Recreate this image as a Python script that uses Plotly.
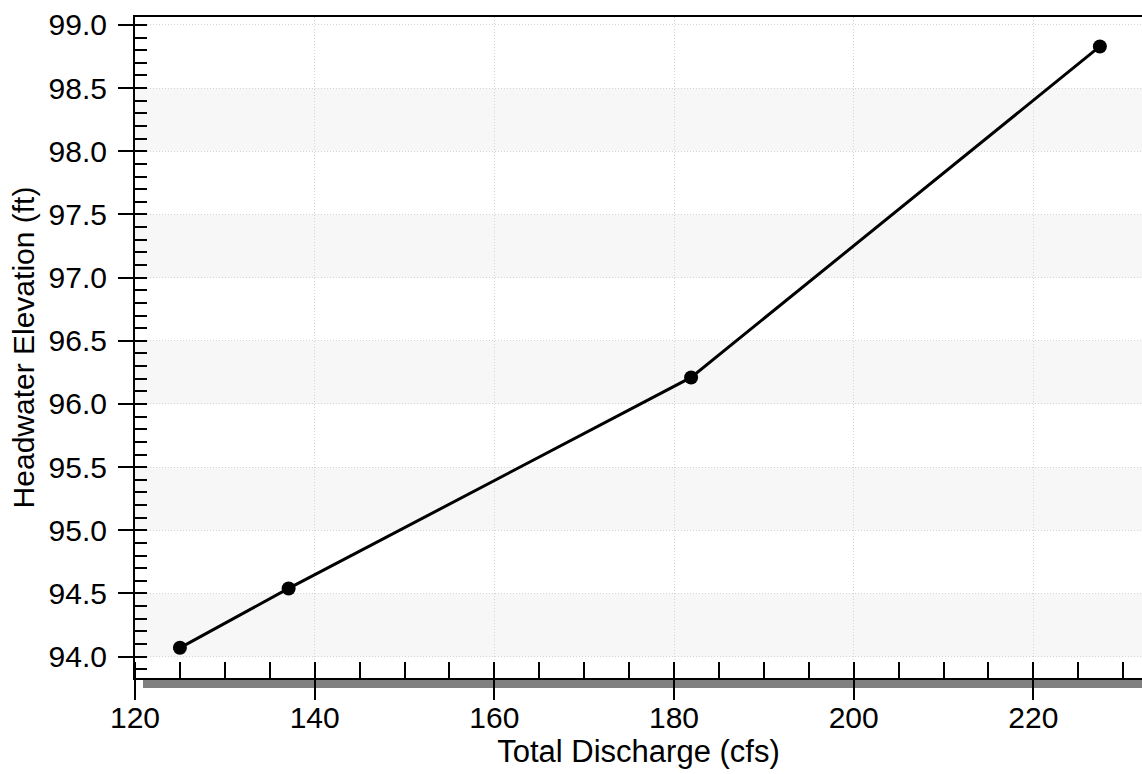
import plotly.graph_objects as go

# Data
discharge_cfs = [125.0, 137.1, 181.9, 227.4]
headwater_ft = [94.07, 94.54, 96.21, 98.83]

x_range = [120.0, 232.09]
y_range = [93.831, 99.063]
y_band_starts = [94.0, 95.0, 96.0, 97.0, 98.0]
y_band_height = 0.5

FONT = "Liberation Sans, Arial, sans-serif"

W, H = 1142, 774
L, R, T, B = 135, 0, 17, 96
plot_w = W - L - R
plot_h = H - T - B

fig = go.Figure()
fig.add_trace(go.Scatter(
    x=discharge_cfs, y=headwater_ft, mode="lines+markers",
    line=dict(color="black", width=3),
    marker=dict(color="black", size=14, symbol="circle"),
    cliponaxis=False, showlegend=False,
))

shapes = []
for b in y_band_starts:
    shapes.append(dict(type="rect", xref="paper", yref="y", x0=0, x1=1,
                       y0=b, y1=b + y_band_height, fillcolor="#f7f7f7",
                       line=dict(width=0), layer="below"))
# drop shadow under the bottom axis
shapes.append(dict(type="rect", xref="paper", yref="paper",
                   x0=8 / plot_w, x1=1, y0=-10 / plot_h, y1=-1 / plot_h,
                   fillcolor="#808080", line=dict(width=0), layer="below"))

fig.update_layout(
    width=W, height=H,
    margin=dict(l=L, r=R, t=T, b=B, pad=0),
    paper_bgcolor="white", plot_bgcolor="white",
    font=dict(family=FONT, size=30, color="black"),
    shapes=shapes,
    xaxis=dict(
        range=x_range, tick0=120, dtick=20,
        showline=True, linecolor="black", linewidth=2, mirror=True,
        ticks="outside", ticklen=20, tickwidth=2, tickcolor="black",
        showgrid=True, gridcolor="#d4d4d4", griddash="1px,2px", gridwidth=1,
        zeroline=False,
        minor=dict(ticks="inside", ticklen=16, tickwidth=2, tickcolor="black",
                   dtick=5, tick0=120, showgrid=False),
        tickfont=dict(size=30), ticklabelstandoff=-8,
        title=dict(text="Total Discharge (cfs)", font=dict(size=31), standoff=0),
    ),
    yaxis=dict(
        range=y_range, tick0=94, dtick=0.5, tickformat=".1f",
        showline=True, linecolor="black", linewidth=2,
        ticks="outside", ticklen=15, tickwidth=2, tickcolor="black",
        showgrid=True, gridcolor="#d4d4d4", griddash="1px,2px", gridwidth=1,
        zeroline=False,
        minor=dict(ticks="inside", ticklen=12, tickwidth=2, tickcolor="black",
                   dtick=0.1, tick0=94, showgrid=False),
        tickfont=dict(size=30), ticklabelstandoff=5,
        title=dict(text="Headwater Elevation (ft)", font=dict(size=30), standoff=5),
    ),
)

fig.write_html("out.html", config={"displayModeBar": False},
               post_script="document.body.style.margin='0';")
